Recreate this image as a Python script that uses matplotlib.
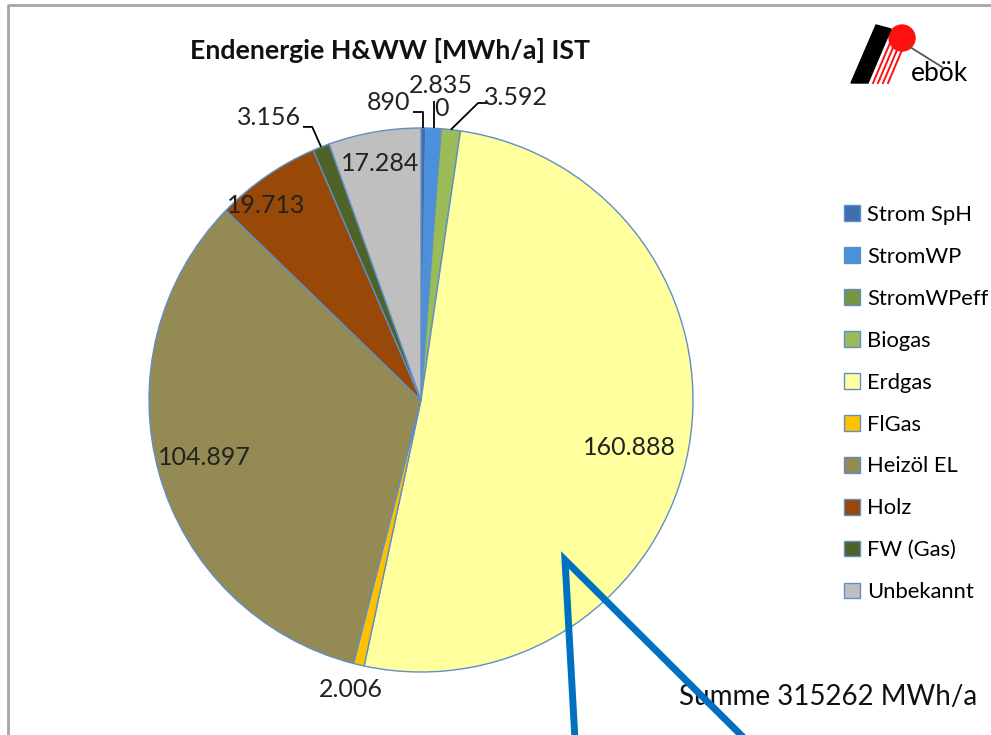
import matplotlib
matplotlib.use("Agg")
import matplotlib.pyplot as plt
import numpy as np
from matplotlib.patches import Polygon, Circle

plt.rcParams['font.family'] = ['Lato', 'DejaVu Sans']

# ---- data ----
categories = ["Strom SpH", "StromWP", "StromWPeff", "Biogas", "Erdgas",
              "FlGas", "Heizöl EL", "Holz", "FW (Gas)", "Unbekannt"]
values = [890, 2835, 0, 3592, 160888, 2006, 104897, 19713, 3156, 17284]
value_labels = ["890", "2.835", "0", "3.592", "160.888",
                "2.006", "104.897", "19.713", "3.156", "17.284"]
colors = ["#3D6FB0", "#4A90DA", "#77953C", "#9BBB59", "#FFFF9E",
          "#FFC000", "#948A54", "#984807", "#4F6228", "#BFBFBF"]
title = "Endenergie H&WW [MWh/a] IST"
summe_text = "Summe 315262 MWh/a"

W, H = 991, 735
fig = plt.figure(figsize=(W / 100, H / 100), dpi=100)

# pie axes: center (421,400) px, radius 272 px
cx, cy, R = 421, 400, 272
ax = fig.add_axes([(cx - R) / W, (H - cy - R) / H, 2 * R / W, 2 * R / H])
wedges, _ = ax.pie(values, colors=colors, startangle=90, counterclock=False,
                   radius=1.0,
                   wedgeprops=dict(edgecolor="#5F8FC8", linewidth=1.0))
ax.set_xlim(-1, 1)
ax.set_ylim(-1, 1)

fs = 18.0
# inside labels: (radius factor, angle shift in degrees) relative to mid angle
inside = {4: (0.787, -2.5), 6: (0.826, -0.8), 7: (0.916, 3.9), 9: (0.884, 0.0)}
for i, (rf, dth) in inside.items():
    w = wedges[i]
    mid = np.deg2rad((w.theta1 + w.theta2) / 2 + dth)
    ax.text(rf * np.cos(mid), rf * np.sin(mid), value_labels[i],
            ha="center", va="center", fontsize=fs, color="#222222")

# outside labels: text position and leader elbow (data units)
outside = {
    0: ((-0.120, 1.092), [(None, 1.059), (-0.03, 1.059)]),
    1: ((0.074, 1.158), [(None, 1.10)]),
    2: ((0.074, 1.070), []),
    3: ((0.350, 1.112), [(0.210, 1.092), (0.243, 1.092)]),
    5: ((-0.257, -1.066), []),
    8: ((-0.560, 1.040), [(-0.400, 1.004), (-0.434, 1.004)]),
}
for i, (txy, elbow) in outside.items():
    w = wedges[i]
    mid = np.deg2rad((w.theta1 + w.theta2) / 2)
    ex, ey = np.cos(mid), np.sin(mid)
    ax.text(txy[0], txy[1], value_labels[i], ha="center", va="center",
            fontsize=fs, color="#222222", clip_on=False)
    if elbow:
        xs, ys = [ex], [ey]
        for (px, py) in elbow:
            xs.append(ex if px is None else px)
            ys.append(py)
        ax.plot(xs, ys, color="black", lw=1.3, clip_on=False,
                solid_capstyle="butt")

# legend
leg = fig.legend(wedges, categories, loc="upper left",
                 bbox_to_anchor=(835 / W, 1 - 196 / H), frameon=False,
                 fontsize=15.8, handlelength=0.72, handleheight=0.72,
                 handletextpad=0.35, labelspacing=1.0, borderaxespad=0)
for h in leg.legend_handles:
    h.set_edgecolor("#5F8FC8")
    h.set_linewidth(1.0)

# overlay for decorations
ov = fig.add_axes([0, 0, 1, 1], zorder=5)
ov.set_xlim(0, W)
ov.set_ylim(H, 0)
ov.axis("off")
ov.patch.set_alpha(0)

# frame
ov.plot([8, 8, W + 5], [H + 5, 5, 5], color="#A6A6A6", lw=2)

# title
ov.text(390, 50, title, ha="center", va="center", fontsize=19.3,
        fontweight="bold", color="#111111")

# summe
ov.text(977, 697, summe_text, ha="right", va="center", fontsize=20,
        color="#111111")

# logo
ov.add_patch(Circle((902, 38), 13, color="#FF1010", zorder=1))
ov.add_patch(Polygon([(851, 83), (876, 25), (891, 29), (868, 83)],
                     closed=True, color="black", zorder=2))
for k in range(4):
    x0 = 893 + k * 5
    ov.plot([x0, x0 - 20], [36, 83], color="#FF1010", lw=1.4, zorder=3)
ov.plot([910, 942], [47, 67], color="#555555", lw=1.3, zorder=3)
ov.text(939, 73, "ebök", ha="center", va="center", fontsize=19,
        color="black", zorder=4)

# blue annotation lines
ov.plot([575, 565, 746], [740, 560, 740], color="#0070C0", lw=5,
        solid_joinstyle="miter", zorder=6)

fig.savefig("out.png", dpi=100)
